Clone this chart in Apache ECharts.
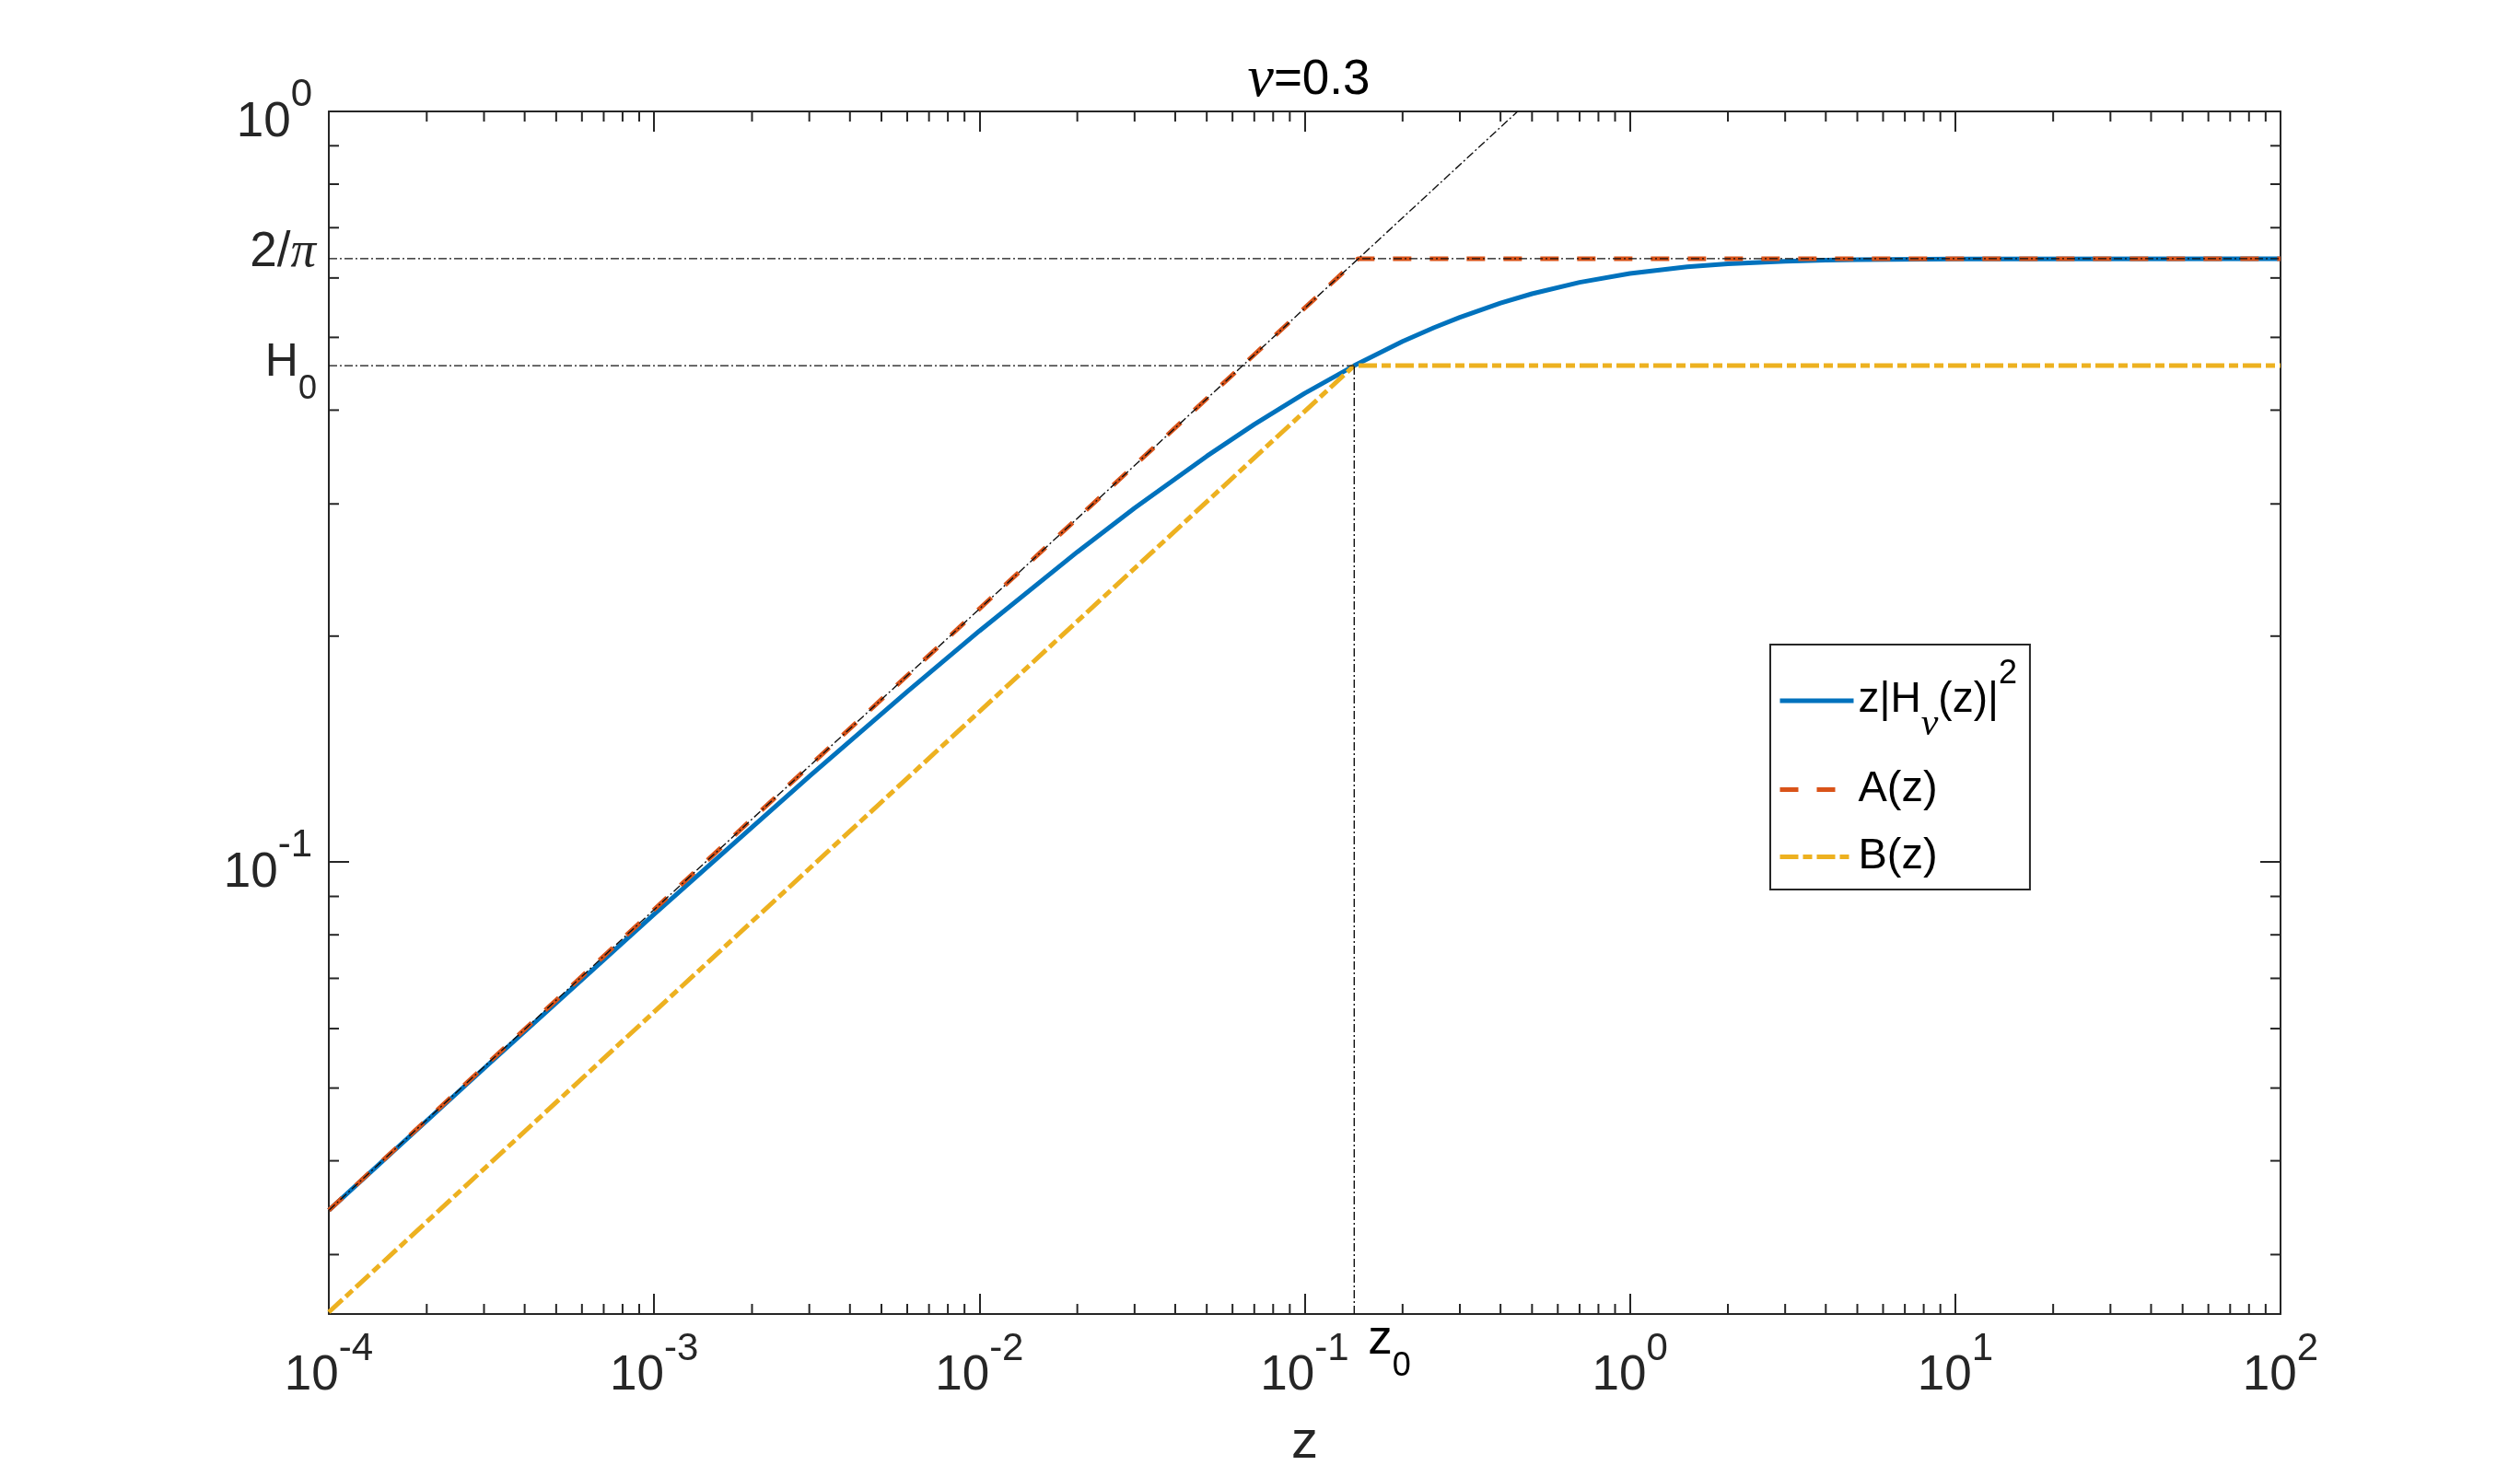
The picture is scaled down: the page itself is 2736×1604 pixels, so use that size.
<!DOCTYPE html>
<html><head><meta charset="utf-8">
<script src="https://cdn.jsdelivr.net/npm/echarts@6/dist/echarts.min.js"></script>
<style>html,body{margin:0;padding:0;background:#fff}#c{width:2736px;height:1604px}</style>
</head><body><div id="c"></div>
<script>
// ---- data ----
const zCurve = [1e-4, 3e-4, 1e-3, 3e-3, 6e-3, 0.01, 0.02, 0.03, 0.05, 0.07, 0.1, 0.142, 0.2, 0.25, 0.3, 0.4, 0.5, 0.7, 1, 1.5, 2, 3, 4, 5, 10, 100];
const hCurve = [0.03436, 0.05311, 0.08520, 0.13009, 0.16867, 0.20319, 0.25891, 0.29628, 0.34731, 0.38285, 0.42125, 0.45850, 0.49378, 0.51528, 0.53179, 0.55550, 0.57165, 0.59200, 0.60830, 0.62087, 0.62667, 0.63167, 0.63366, 0.63469, 0.63612, 0.63662];
const zA = [1e-4, 0.146, 100];
const hA = [0.03436, 0.63662, 0.63662];
const zB = [1e-4, 0.142, 100];
const hB = [0.02514, 0.45850, 0.45850];
const zAsym = [1e-4, 0.4515];
const hAsym = [0.03436, 1];
const z0 = 0.142;
const H0 = 0.4585;
const twoOverPi = 0.63662;
const xRange = [1e-4, 100];
const yRange = [0.025, 1];
const seriesNames = ['zH', 'A(z)', 'B(z)'];
const titleText = '{nu|ν}{t|=0.3}';
const xName = 'z';

const AX = '#262626';
const SANS = '"Liberation Sans", Arial, Helvetica, sans-serif';
const SERIF = '"Liberation Serif", "Times New Roman", serif';
const pairs = (xs, ys) => xs.map((x, i) => [x, ys[i]]);

function decadeLabel(v) {
  const l = Math.log10(v), e = Math.round(l);
  if (Math.abs(l - e) > 1e-6) return '';
  return '{b|10}{p|' + e + '}';
}
const tickRich = {
  b: {fontSize: 53, fontFamily: SANS, color: AX, padding: [24, 0, 0, 0]},
  p: {fontSize: 42, fontFamily: SANS, color: AX, verticalAlign: 'top'}
};

const chart = echarts.init(document.getElementById('c'), null, {renderer: 'canvas'});

const baseAxis = {
  type: 'log', logBase: 10,
  axisLine: {show: true, onZero: false, lineStyle: {color: AX, width: 2}},
  axisTick: {show: true, inside: true, length: 22, lineStyle: {color: AX, width: 2}},
  splitLine: {show: false},
  minorTick: {show: false},
  minorSplitLine: {show: false}
};

function minorTicks(params, api) {
  const children = [];
  const lineStyle = {stroke: AX, lineWidth: 2};
  const bl = api.coord([xRange[0], yRange[0]]);
  const tr = api.coord([xRange[1], yRange[1]]);
  const L = 11;
  for (let d = -4; d < 2; d++) {
    for (let m = 2; m <= 9; m++) {
      const v = m * Math.pow(10, d);
      const x = api.coord([v, yRange[0]])[0];
      children.push({type: 'line', shape: {x1: x, y1: bl[1], x2: x, y2: bl[1] - L}, style: lineStyle});
      children.push({type: 'line', shape: {x1: x, y1: tr[1], x2: x, y2: tr[1] + L}, style: lineStyle});
    }
  }
  for (let d = -2; d < 0; d++) {
    for (let m = 2; m <= 9; m++) {
      const v = m * Math.pow(10, d);
      if (v <= yRange[0] || v >= yRange[1]) continue;
      const y = api.coord([xRange[0], v])[1];
      children.push({type: 'line', shape: {x1: bl[0], y1: y, x2: bl[0] + L, y2: y}, style: lineStyle});
      children.push({type: 'line', shape: {x1: tr[0], y1: y, x2: tr[0] - L, y2: y}, style: lineStyle});
    }
  }
  // annotation labels
  const yPi = api.coord([xRange[0], twoOverPi])[1];
  const yH = api.coord([xRange[0], H0])[1];
  const xz0 = api.coord([z0, yRange[0]])[0];
  children.push({type: 'text', x: bl[0] - 14, y: yPi - 6, style: {
    text: '{b|2/}{i|π}', align: 'right', verticalAlign: 'middle',
    rich: {b: {fontSize: 53, fontFamily: SANS, fill: AX}, i: {fontSize: 55, fontFamily: SERIF, fontStyle: 'italic', fill: AX}}
  }});
  children.push({type: 'text', x: bl[0] - 13, y: yH + 8, style: {
    text: '{b|H}{s|0}', align: 'right', verticalAlign: 'middle',
    rich: {b: {fontSize: 50, fontFamily: SANS, fill: AX, padding: [0, 0, 22, 0]}, s: {fontSize: 36, fontFamily: SANS, fill: AX, verticalAlign: 'bottom'}}
  }});
  children.push({type: 'text', x: xz0 + 15, y: bl[1] + 2, style: {
    text: '{b|z}{s|0}', align: 'left', verticalAlign: 'top',
    rich: {b: {fontSize: 53, fontFamily: SANS, fill: '#000', padding: [0, 0, 20, 0]}, s: {fontSize: 36, fontFamily: SANS, fill: '#000', verticalAlign: 'bottom'}}
  }});
  return {type: 'group', children};
}

const guideStyle = {color: '#111', width: 1.4, type: [9, 3, 2, 3]};

chart.setOption({
  animation: false,
  backgroundColor: '#fff',
  title: {
    text: titleText, left: 1416, top: 50, textAlign: 'center',
    textStyle: {fontWeight: 'normal', rich: {
      nu: {fontSize: 64, fontFamily: SERIF, fontStyle: 'italic', fontWeight: 'normal', color: '#000'},
      t: {fontSize: 53, fontFamily: SANS, fontWeight: 'normal', color: '#000'}
    }}
  },
  grid: {left: 357, right: 260, top: 121, bottom: 177, containLabel: false},
  legend: {
    show: true, orient: 'vertical', left: 1922, top: 700,
    data: seriesNames,
    itemWidth: 80, itemHeight: 20, itemGap: 26,
    padding: [14, 14, 12, 8],
    borderColor: AX, borderWidth: 2, backgroundColor: '#fff',
    itemStyle: {opacity: 0, color: 'rgba(0,0,0,0)', borderWidth: 0},
    lineStyle: {width: 5},
    formatter: function (n) {
      if (n === 'zH') return '{n|z|H}{s|ν}{n|(z)|}{p|2}';
      return '{a|' + n + '}';
    },
    textStyle: {color: '#000', fontFamily: SANS, fontSize: 47, rich: {
      n: {fontSize: 46, fontFamily: SANS, color: '#000', padding: [23, 0, 25, 0]},
      s: {fontSize: 42, fontFamily: SERIF, fontStyle: 'italic', color: '#000', verticalAlign: 'bottom'},
      p: {fontSize: 36, fontFamily: SANS, color: '#000', verticalAlign: 'top'},
      a: {fontSize: 47, fontFamily: SANS, color: '#000'}
    }}
  },
  xAxis: [
    Object.assign({}, baseAxis, {
      position: 'bottom', min: xRange[0], max: xRange[1],
      name: xName, nameLocation: 'middle', nameGap: 111,
      nameTextStyle: {fontSize: 58, fontFamily: SANS, color: AX},
      axisLabel: {show: true, margin: 17, formatter: decadeLabel, rich: tickRich, hideOverlap: false, showMinLabel: true, showMaxLabel: true}
    }),
    Object.assign({}, baseAxis, {
      position: 'top', min: xRange[0], max: xRange[1], axisLabel: {show: false}
    })
  ],
  yAxis: [
    Object.assign({}, baseAxis, {
      position: 'left', min: yRange[0], max: yRange[1],
      axisLabel: {show: true, margin: 18, formatter: decadeLabel, rich: tickRich, hideOverlap: false}
    }),
    Object.assign({}, baseAxis, {
      position: 'right', min: yRange[0], max: yRange[1], axisLabel: {show: false}
    })
  ],
  series: [
    {name: 'zH', type: 'line', data: pairs(zCurve, hCurve), showSymbol: false, symbol: 'none',
     lineStyle: {color: '#0072BD', width: 5}, itemStyle: {color: '#0072BD'}, z: 3},
    {name: 'A(z)', type: 'line', data: pairs(zA, hA), showSymbol: false, symbol: 'none',
     lineStyle: {color: '#D95319', width: 5, type: [20, 20]}, itemStyle: {color: '#D95319'}, z: 4},
    {name: 'B(z)', type: 'line', data: pairs(zB, hB), showSymbol: false, symbol: 'none',
     lineStyle: {color: '#EDB120', width: 5, type: [20, 5, 10, 5]}, itemStyle: {color: '#EDB120'}, z: 4},
    {name: 'asym', type: 'line', data: pairs(zAsym, hAsym), showSymbol: false, symbol: 'none', lineStyle: guideStyle, z: 5, silent: true},
    {name: 'piLine', type: 'line', data: [[xRange[0], twoOverPi], [xRange[1], twoOverPi]], showSymbol: false, symbol: 'none', lineStyle: guideStyle, z: 5, silent: true},
    {name: 'H0Line', type: 'line', data: [[xRange[0], H0], [z0, H0]], showSymbol: false, symbol: 'none', lineStyle: guideStyle, z: 5, silent: true},
    {name: 'z0Line', type: 'line', data: [[z0, yRange[0]], [z0, H0]], showSymbol: false, symbol: 'none', lineStyle: guideStyle, z: 5, silent: true},
    {name: 'ticks', type: 'custom', renderItem: minorTicks, data: [[1, 0.5]], z: 6, silent: true, clip: false}
  ]
});
</script>
</body></html>
